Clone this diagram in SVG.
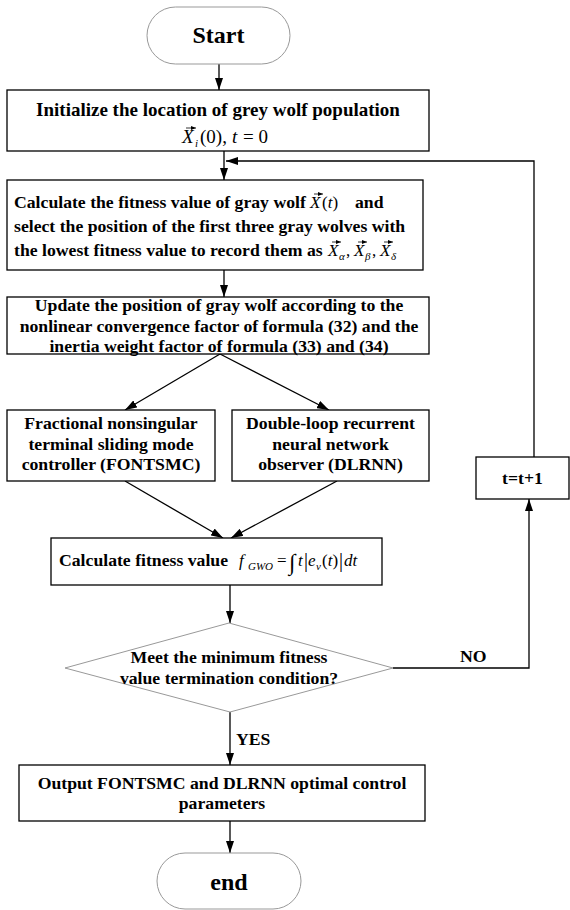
<svg xmlns="http://www.w3.org/2000/svg" width="570" height="910" viewBox="0 0 570 910">
<defs>
<marker id="ah" markerWidth="12" markerHeight="8" refX="12" refY="4" orient="auto" markerUnits="userSpaceOnUse"><path d="M0,0 L12,4 L0,8 z" fill="#000"/></marker>
<marker id="vh" markerWidth="5" markerHeight="4" refX="5" refY="2" orient="auto" markerUnits="userSpaceOnUse"><path d="M0,0 L5,2 L0,4 z" fill="#000"/></marker>
</defs>
<style>
.box{fill:#fff;stroke:#000;stroke-width:1.3}
.term{fill:#fff;stroke:#999;stroke-width:1}
.t{font-family:"Liberation Serif","Times New Roman",serif;font-weight:bold;font-size:17.7px;fill:#000}
.big{font-size:24px}
.c{text-anchor:middle}
.m{font-family:"Liberation Serif","Times New Roman",serif;font-style:italic;font-size:17px;fill:#000}
.r{font-style:normal}
.s{font-size:11px}
.con{fill:none;stroke:#000;stroke-width:1.3}
.vec{stroke:#000;stroke-width:0.8;fill:none}
</style>
<rect x="0" y="0" width="570" height="910" fill="#fff"/>

<g id="connectors">
<path class="con" d="M219,64 V90" marker-end="url(#ah)"/>
<path class="con" d="M224,151 V180" marker-end="url(#ah)"/>
<path class="con" d="M534,457 V161 H226" marker-end="url(#ah)"/>
<path class="con" d="M224,270 V297" marker-end="url(#ah)"/>
<path class="con" d="M220,354 L125,410" marker-end="url(#ah)"/>
<path class="con" d="M220,354 L329,410" marker-end="url(#ah)"/>
<path class="con" d="M125,481 L223,538" marker-end="url(#ah)"/>
<path class="con" d="M337,481 L231,538" marker-end="url(#ah)"/>
<path class="con" d="M230,585 V623" marker-end="url(#ah)"/>
<path class="con" d="M393,668 H529 V499" marker-end="url(#ah)"/>
<path class="con" d="M230,712 V765" marker-end="url(#ah)"/>
<path class="con" d="M230,821 V853" marker-end="url(#ah)"/>
<text class="t" x="460" y="662">NO</text>
<text class="t" x="236" y="745">YES</text>
</g>

<g id="start">
<rect class="term" x="147" y="7" width="143" height="57" rx="28.5"/>
<text class="t big c" x="218.5" y="43">Start</text>
</g>

<g id="init">
<rect class="box" x="7" y="90" width="422" height="61"/>
<text class="t c" x="218" y="116" style="font-size:19px">Initialize the location of grey wolf population</text>
<text class="m" x="182" y="143" style="font-size:19px">X</text>
<path class="vec" d="M186,128 H196" marker-end="url(#vh)"/>
<text class="m s" x="195" y="147">i</text>
<text class="m r" x="200" y="143" style="font-size:19px">(0),</text>
<text class="m" x="232" y="143" style="font-size:19px">t</text>
<text class="m r" x="243" y="143" style="font-size:19px">= 0</text>
</g>

<g id="fitness-calc">
<rect class="box" x="7" y="180" width="416" height="90"/>
<text class="t" x="14" y="208">Calculate the fitness value of gray wolf</text>
<text class="m" x="310" y="208">X</text>
<path class="vec" d="M314,194 H323" marker-end="url(#vh)"/>
<text class="m r" x="322" y="208">(<tspan font-style="italic">t</tspan>)</text>
<text class="t" x="355" y="208">and</text>
<text class="t" x="14" y="232">select the position of the first three gray wolves with</text>
<text class="t" x="14" y="256">the lowest fitness value to record them as</text>
<text class="m" x="328" y="256">X</text>
<path class="vec" d="M332,242 H341" marker-end="url(#vh)"/>
<text class="m s" x="339" y="260">α</text>
<text class="m r" x="346" y="256">,</text>
<text class="m" x="354" y="256">X</text>
<path class="vec" d="M358,242 H367" marker-end="url(#vh)"/>
<text class="m s" x="365" y="260">β</text>
<text class="m r" x="372" y="256">,</text>
<text class="m" x="380" y="256">X</text>
<path class="vec" d="M384,242 H393" marker-end="url(#vh)"/>
<text class="m s" x="391" y="260">δ</text>
</g>

<g id="update">
<rect class="box" x="7" y="297" width="422" height="57"/>
<text class="t c" x="219" y="311">Update the position of gray wolf according to the</text>
<text class="t c" x="219" y="332">nonlinear convergence factor of formula (32) and the</text>
<text class="t c" x="219" y="352">inertia weight factor of formula (33) and (34)</text>
</g>

<g id="fontsmc">
<rect class="box" x="7" y="410" width="208" height="71"/>
<text class="t c" x="111" y="429">Fractional nonsingular</text>
<text class="t c" x="111" y="450">terminal sliding mode</text>
<text class="t c" x="111" y="470">controller (FONTSMC)</text>
</g>

<g id="dlrnn">
<rect class="box" x="232" y="410" width="197" height="71"/>
<text class="t c" x="330.5" y="429">Double-loop recurrent</text>
<text class="t c" x="330.5" y="450">neural network</text>
<text class="t c" x="330.5" y="470">observer (DLRNN)</text>
</g>

<g id="fitness">
<rect class="box" x="51" y="538" width="331" height="47"/>
<text class="t" x="59" y="566">Calculate fitness value</text>
<text class="m" x="239" y="566">f</text>
<text class="m s" x="248" y="570">GWO</text>
<text class="m r" x="277" y="566">=</text>
<text class="m r" x="289" y="570" style="font-size:23px">∫</text>
<text class="m" x="298" y="566">t</text>
<text class="m r" x="304" y="567" style="font-size:20px">|</text>
<text class="m" x="308" y="566">e</text>
<text class="m s" x="316" y="570">v</text>
<text class="m r" x="322" y="566">(<tspan font-style="italic">t</tspan>)</text>
<text class="m r" x="339" y="567" style="font-size:20px">|</text>
<text class="m" x="344" y="566">dt</text>
</g>

<g id="decision">
<path class="term" d="M229,623 L393,668 L230,712 L65,668 Z"/>
<text class="t c" x="229" y="663">Meet the minimum fitness</text>
<text class="t c" x="229" y="684">value termination condition?</text>
</g>

<g id="increment">
<rect class="box" x="476" y="457" width="93" height="42"/>
<text class="t c" x="522.5" y="484">t=t+1</text>
</g>

<g id="output">
<rect class="box" x="19" y="765" width="406" height="56"/>
<text class="t c" x="222" y="789">Output FONTSMC and DLRNN optimal control</text>
<text class="t c" x="222" y="809">parameters</text>
</g>

<g id="end">
<rect class="term" x="157" y="853" width="144" height="56" rx="28"/>
<text class="t big c" x="229" y="890">end</text>
</g>
</svg>
